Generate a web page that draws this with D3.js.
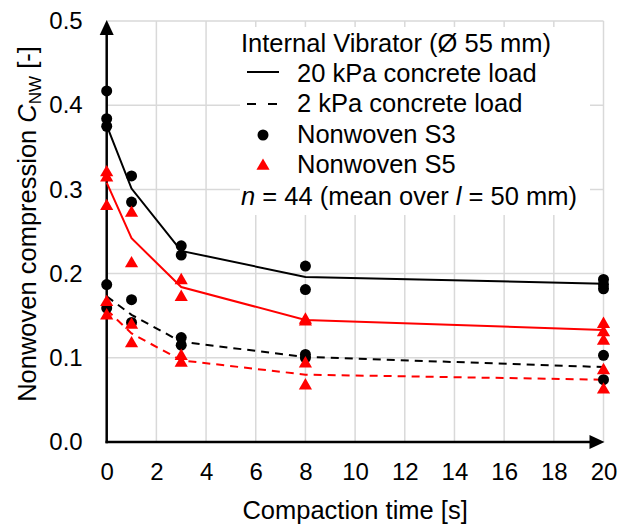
<!DOCTYPE html>
<html>
<head>
<meta charset="utf-8">
<script src="https://cdn.jsdelivr.net/npm/d3@7"></script>
<style>
html,body{margin:0;padding:0;background:#fff;}
svg text{font-family:"Liberation Sans",Arial,sans-serif;fill:#000;}
</style>
</head>
<body>
<svg id="chart" width="627" height="524"></svg>
<script>
// ---- data ----
const times = [0, 1, 3, 8, 20];
const s3_20kPa = [0.376, 0.301, 0.227, 0.196, 0.188];
const s5_20kPa = [0.308, 0.242, 0.184, 0.145, 0.133];
const s3_2kPa  = [0.173, 0.151, 0.119, 0.101, 0.089];
const s5_2kPa  = [0.157, 0.129, 0.097, 0.080, 0.074];

const s3PointTimes  = [0,0,0,0,0, 1,1,1,1, 3,3,3,3, 8,8,8,8, 20,20,20,20,20];
const s3PointValues = [0.417,0.384,0.375,0.187,0.159, 0.316,0.285,0.169,0.142,
                       0.233,0.222,0.124,0.115, 0.209,0.181,0.104,0.100,
                       0.193,0.187,0.182,0.103,0.074];
const s5PointTimes  = [0,0,0,0,0, 1,1,1,1, 3,3,3,3, 8,8,8,8, 20,20,20,20,20];
const s5PointValues = [0.320,0.314,0.280,0.166,0.150, 0.272,0.212,0.139,0.117,
                       0.192,0.172,0.102,0.094, 0.145,0.143,0.093,0.067,
                       0.140,0.130,0.120,0.085,0.062];

const xTicks = [0,2,4,6,8,10,12,14,16,18,20];
const yTicks = [0,0.1,0.2,0.3,0.4,0.5];

// ---- layout ----
const svg = d3.select("#chart");
const x = d3.scaleLinear().domain([0,20]).range([106.7,603.5]);
const y = d3.scaleLinear().domain([0,0.5]).range([442,21]);

// grid
const grid = svg.append("g").attr("stroke","#d9d9d9").attr("stroke-width",1.5);
grid.selectAll("line.v").data(xTicks.filter(d=>d>0)).join("line")
  .attr("x1",d=>x(d)).attr("x2",d=>x(d)).attr("y1",y(0)).attr("y2",y(0.5));
grid.selectAll("line.h").data(yTicks.filter(d=>d>0)).join("line")
  .attr("x1",x(0)).attr("x2",x(20)).attr("y1",d=>y(d)).attr("y2",d=>y(d));

// legend background (covers grid)
svg.append("rect").attr("x",240).attr("y",27).attr("width",350).attr("height",188).attr("fill","#fff");

// axes
const xAxis = d3.axisBottom(x).tickValues(xTicks).tickSize(0).tickFormat(d3.format("d"));
const gx = svg.append("g").attr("transform",`translate(0,${y(0)})`).call(xAxis);
gx.select(".domain").remove();
gx.selectAll("text").attr("font-size",24).attr("y",38).attr("dy",0);

const yAxis = d3.axisLeft(y).tickValues(yTicks).tickSize(0).tickPadding(24).tickFormat(d3.format(".1f"));
const gy = svg.append("g").attr("transform",`translate(${x(0)},0)`).call(yAxis);
gy.select(".domain").remove();
gy.selectAll("text").attr("font-size",24);

// axis lines with arrows
svg.append("line").attr("x1",x(0)).attr("x2",x(0)).attr("y1",y(0)+1.2).attr("y2",y(0.5)+12)
  .attr("stroke","#000").attr("stroke-width",2.5);
svg.append("line").attr("x1",x(0)-1.2).attr("x2",x(20)-12).attr("y1",y(0)).attr("y2",y(0))
  .attr("stroke","#000").attr("stroke-width",2.5);
svg.append("path").attr("d",`M${x(0)},${y(0.5)-1} l-7,15 l14,0 Z`).attr("fill","#000");
svg.append("path").attr("d",`M${x(20)+1},${y(0)} l-15,-7 l0,14 Z`).attr("fill","#000");

// lines
const line = d3.line().x((d,i)=>x(times[i])).y(d=>y(d));
const series = [
  {v:s3_20kPa,c:"#000",dash:null},
  {v:s5_20kPa,c:"#ff0000",dash:null},
  {v:s3_2kPa,c:"#000",dash:"8,6"},
  {v:s5_2kPa,c:"#ff0000",dash:"8,6"}
];
svg.selectAll("path.series").data(series).join("path").attr("class","series")
  .attr("d",d=>line(d.v)).attr("fill","none").attr("stroke",d=>d.c)
  .attr("stroke-width",2).attr("stroke-dasharray",d=>d.dash);

// points
svg.selectAll("circle.s3").data(s3PointValues).join("circle").attr("class","s3")
  .attr("cx",(d,i)=>x(s3PointTimes[i])).attr("cy",d=>y(d)).attr("r",5.5).attr("fill","#000");
const tri = d3.symbol().type(d3.symbolTriangle).size(75);
svg.selectAll("path.s5").data(s5PointValues).join("path").attr("class","s5")
  .attr("transform",(d,i)=>`translate(${x(s5PointTimes[i])},${y(d)})`).attr("d",tri).attr("fill","#ff0000");

// axis titles
svg.append("text").attr("x",(x(0)+x(20))/2).attr("y",519).attr("text-anchor","middle")
  .attr("font-size",25.5).text("Compaction time [s]");
const yt = svg.append("text").attr("transform",`translate(36,224) rotate(-90)`).attr("text-anchor","middle").attr("font-size",25.5);
yt.append("tspan").text("Nonwoven compression ");
yt.append("tspan").attr("font-style","italic").text("C");
yt.append("tspan").attr("font-size",17).attr("dy",5).text("NW");
yt.append("tspan").attr("dy",-5).text(" [-]");

// legend
const lg = svg.append("g");
const lfs = 25.5;
lg.append("text").attr("x",241).attr("y",52).attr("font-size",lfs).text("Internal Vibrator (Ø 55 mm)");
const items = ["20 kPa concrete load","2 kPa concrete load","Nonwoven S3","Nonwoven S5"];
lg.selectAll("text.item").data(items).join("text").attr("class","item")
  .attr("x",297).attr("y",(d,i)=>82+i*30.3).attr("font-size",lfs).text(d=>d);
lg.append("line").attr("x1",247).attr("x2",279).attr("y1",72).attr("y2",72).attr("stroke","#000").attr("stroke-width",2);
lg.append("line").attr("x1",247).attr("x2",281).attr("y1",104).attr("y2",104).attr("stroke","#000").attr("stroke-width",2).attr("stroke-dasharray","9,12");
lg.append("circle").attr("cx",263).attr("cy",135).attr("r",5.5).attr("fill","#000");
lg.append("path").attr("transform","translate(263,166)").attr("d",tri).attr("fill","#ff0000");
const nt = lg.append("text").attr("x",241).attr("y",205).attr("font-size",lfs);
nt.append("tspan").attr("font-style","italic").text("n");
nt.append("tspan").text(" = 44 (mean over ");
nt.append("tspan").attr("font-style","italic").text("l");
nt.append("tspan").text(" = 50 mm)");
</script>
</body>
</html>
